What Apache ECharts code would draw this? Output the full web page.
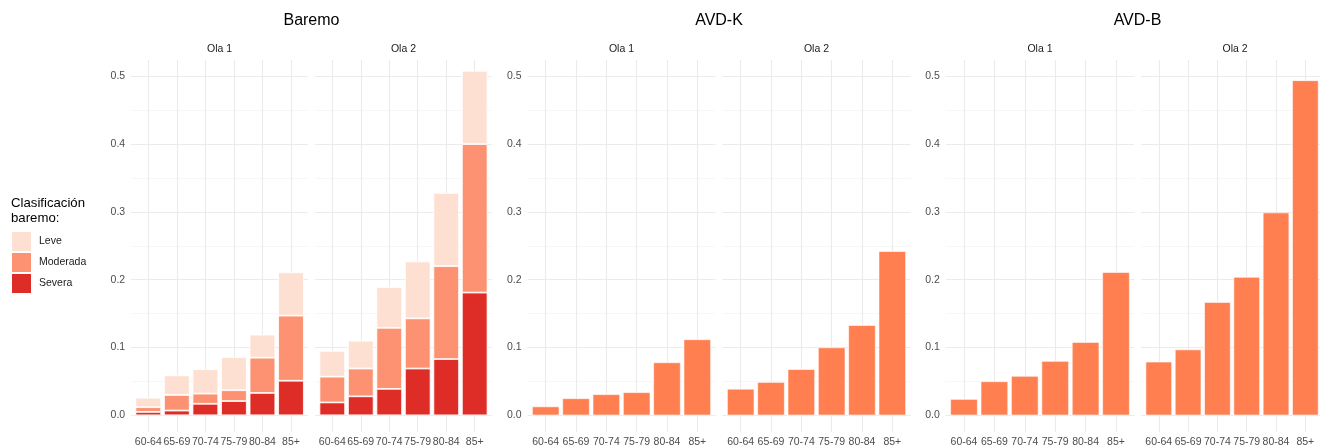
<!DOCTYPE html>
<html><head><meta charset="utf-8">
<script src="https://cdn.jsdelivr.net/npm/echarts@6/dist/echarts.min.js"></script>
<style>html,body{margin:0;padding:0;background:#fff}#c{width:1320px;height:448px}</style>
</head><body><div id="c"></div>
<script>
// ---------- data ----------
const ageGroups = ['60-64', '65-69', '70-74', '75-79', '80-84', '85+'];
const olaLabels = ['Ola 1', 'Ola 2'];
const groupTitles = ['Baremo', 'AVD-K', 'AVD-B'];
const legendTitle = 'Clasificación\nbaremo:';
const severityLevels = ['Leve', 'Moderada', 'Severa'];

const baremoSeveraOla1   = [0.005, 0.007, 0.017, 0.021, 0.033, 0.051];
const baremoModeradaOla1 = [0.007, 0.023, 0.015, 0.016, 0.052, 0.096];
const baremoLeveOla1     = [0.014, 0.029, 0.036, 0.049, 0.034, 0.064];
const baremoSeveraOla2   = [0.019, 0.028, 0.039, 0.069, 0.083, 0.181];
const baremoModeradaOla2 = [0.038, 0.041, 0.090, 0.074, 0.137, 0.219];
const baremoLeveOla2     = [0.038, 0.041, 0.060, 0.084, 0.108, 0.108];
const avdKOla1 = [0.013, 0.025, 0.031, 0.034, 0.078, 0.112];
const avdKOla2 = [0.039, 0.049, 0.068, 0.100, 0.133, 0.242];
const avdBOla1 = [0.024, 0.050, 0.058, 0.080, 0.108, 0.211];
const avdBOla2 = [0.079, 0.097, 0.167, 0.204, 0.299, 0.494];

// ---------- layout / style ----------
const FONT = "'Liberation Sans', Arial, sans-serif";
const severityColors = { Leve: '#FEE0D2', Moderada: '#FC9272', Severa: '#DE2D26' };
const AVD_COLOR = '#FF7F50';
const GRID_COLOR = '#EBEBEB';
const MINOR_COLOR = '#F4F4F4';
const AXIS_TEXT = '#4D4D4D';
const Y_MIN = -0.0246, Y_MAX = 0.524;
const GRID_TOP = 60, GRID_H = 372;
// first category centre and category spacing for each facet (px)
const facetLayout = [
  { c0: 148.3, s: 28.54 }, { c0: 332.3, s: 28.48 },
  { c0: 545.7, s: 30.32 }, { c0: 740.7, s: 30.32 },
  { c0: 964.0, s: 30.40 }, { c0: 1159.3, s: 30.34 }
];

const grids = [], xAxes = [], yAxes = [], series = [], graphics = [];

facetLayout.forEach((f, i) => {
  const bg = 2 * i, dg = 2 * i + 1;
  grids.push({ left: f.c0 - 0.6 * f.s, width: 6.2 * f.s, top: GRID_TOP, height: GRID_H, containLabel: false });
  grids.push({ left: f.c0 - 0.5 * f.s, width: 6 * f.s, top: GRID_TOP, height: GRID_H, containLabel: false });
  xAxes.push({ gridIndex: bg, type: 'value', min: 0, max: 1, show: false });
  yAxes.push({
    gridIndex: bg, type: 'value', min: Y_MIN, max: Y_MAX, splitNumber: 5,
    axisLine: { show: false }, axisTick: { show: false },
    axisLabel: { show: i % 2 === 0, formatter: v => v.toFixed(1), color: AXIS_TEXT, fontSize: 10.5,
                 fontFamily: FONT, margin: 6, showMinLabel: false, showMaxLabel: false },
    splitLine: { show: true, showMinLine: false, showMaxLine: false, lineStyle: { color: GRID_COLOR, width: 1.1 } },
    minorTick: { show: false, splitNumber: 2 },
    minorSplitLine: { show: true, lineStyle: { color: MINOR_COLOR, width: 0.7 } }
  });
  xAxes.push({
    gridIndex: dg, type: 'category', data: ageGroups,
    axisLine: { show: false }, axisTick: { show: false },
    axisLabel: { interval: 0, color: AXIS_TEXT, fontSize: 10.5, fontFamily: FONT, margin: 5 },
    splitLine: { show: true, alignWithLabel: true, interval: 0, lineStyle: { color: GRID_COLOR, width: 1.1 } }
  });
  yAxes.push({ gridIndex: dg, type: 'value', min: Y_MIN, max: Y_MAX, show: false, splitLine: { show: false } });

  // strip label
  graphics.push({ type: 'text', x: f.c0 + 2.5 * f.s, y: 49, silent: true,
    style: { text: olaLabels[i % 2], font: '10.5px ' + FONT, fill: '#1A1A1A', align: 'center', verticalAlign: 'middle' } });
});

// group titles
[0, 2, 4].forEach((p, g) => {
  const a = facetLayout[p], b = facetLayout[p + 1];
  const cx = ((a.c0 - 0.6 * a.s) + (b.c0 + 5.6 * b.s)) / 2;
  graphics.push({ type: 'text', x: cx, y: 21, silent: true,
    style: { text: groupTitles[g], font: '16px ' + FONT, fill: '#000', align: 'center', verticalAlign: 'middle' } });
});
graphics.push({ type: 'text', x: 11, y: 196.5, silent: true,
  style: { text: legendTitle, font: '13.2px ' + FONT, fill: '#000', lineHeight: 14.5, align: 'left', verticalAlign: 'top' } });

function stacked(facet, sev, mod, lev) {
  const ax = 2 * facet + 1;
  [['Severa', sev], ['Moderada', mod], ['Leve', lev]].forEach(([name, d]) => {
    series.push({ name, type: 'bar', stack: 'st' + facet, xAxisIndex: ax, yAxisIndex: ax, data: d,
      barCategoryGap: '10%', silent: true,
      itemStyle: { color: severityColors[name], borderColor: '#fff', borderWidth: 0.8 } });
  });
}
function single(facet, d) {
  const ax = 2 * facet + 1;
  series.push({ name: 'avd' + facet, type: 'bar', xAxisIndex: ax, yAxisIndex: ax, data: d,
    barCategoryGap: '10%', silent: true,
    itemStyle: { color: AVD_COLOR, borderColor: '#fff', borderWidth: 0.6 } });
}
stacked(0, baremoSeveraOla1, baremoModeradaOla1, baremoLeveOla1);
stacked(1, baremoSeveraOla2, baremoModeradaOla2, baremoLeveOla2);
single(2, avdKOla1);
single(3, avdKOla2);
single(4, avdBOla1);
single(5, avdBOla2);

const chart = echarts.init(document.getElementById('c'), null, { renderer: 'canvas' });
chart.setOption({
  animation: false,
  backgroundColor: '#fff',
  textStyle: { fontFamily: FONT },
  grid: grids, xAxis: xAxes, yAxis: yAxes, series,
  legend: {
    data: severityLevels, orient: 'vertical', left: 12, top: 232, padding: 0,
    itemWidth: 19, itemHeight: 19, itemGap: 2, icon: 'rect', selectedMode: false,
    itemStyle: { borderWidth: 0 },
    textStyle: { fontSize: 10.5, color: '#1A1A1A', fontFamily: FONT, padding: [0, 0, 0, 3] }
  },
  graphic: graphics
});
</script></body></html>
